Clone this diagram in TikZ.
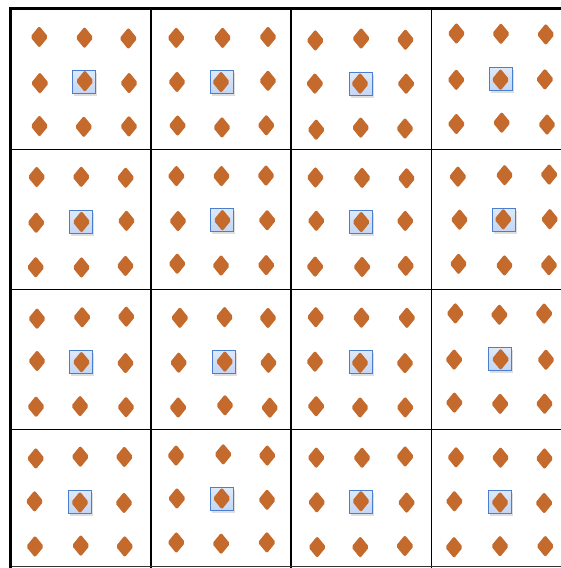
\documentclass[tikz,border=0pt]{standalone}
\usetikzlibrary{shapes.geometric,shadows}
\definecolor{seedorange}{HTML}{C46A2C}
\definecolor{pickfill}{HTML}{C3D6F5}
\definecolor{pickedge}{HTML}{4A7FD0}

\begin{document}
\begin{tikzpicture}[x=1pt,y=-1pt,
  seed/.style={diamond, fill=seedorange, minimum width=18pt, minimum height=22pt, inner sep=0pt, rounded corners=2pt},
  pick/.style={rectangle, draw=pickedge, line width=1.7pt, top color=pickfill!55, bottom color=pickfill, minimum size=23pt, inner sep=0pt, drop shadow={opacity=0.25, shadow xshift=1pt, shadow yshift=-2pt}},
  gridline/.style={line width=1.3pt},
  border/.style={line width=3pt}
]
\useasboundingbox (0,0) rectangle (561,568);
\pgfmathsetseed{7}

% one cell per entry: row/column/centre of the picked sample
\foreach \r/\c/\px/\py in {1/1/84/82, 1/2/222/82, 1/3/361/84, 1/4/501/79,
                           2/1/81/222, 2/2/222/220, 2/3/361/222, 2/4/504/220,
                           3/1/81/362, 3/2/224/362, 3/3/361/362, 3/4/500/359,
                           4/1/80/502, 4/2/222/499, 4/3/361/502, 4/4/500/502} {
  \node[pick] (pick-\r-\c) at (\px,\py) {};
  \foreach \i in {-1,0,1}
    \foreach \j in {-1,0,1}
      \node[seed] (seed-\r-\c-\i-\j) at (\px+\i*45+rand*1.2, \py+\j*44.5+rand*1.2) {};
}

% cell borders
\foreach \gx in {151,291,431.5}
  \draw[gridline] (\gx,8) -- (\gx,568);
\foreach \gy in {149.5,289.5,429.5}
  \draw[gridline] (10,\gy) -- (561,\gy);
\draw[gridline, black!80] (10,566.5) -- (561,566.5);
\draw[border] (10,568) -- (10,8) -- (561,8);
\end{tikzpicture}
\end{document}
